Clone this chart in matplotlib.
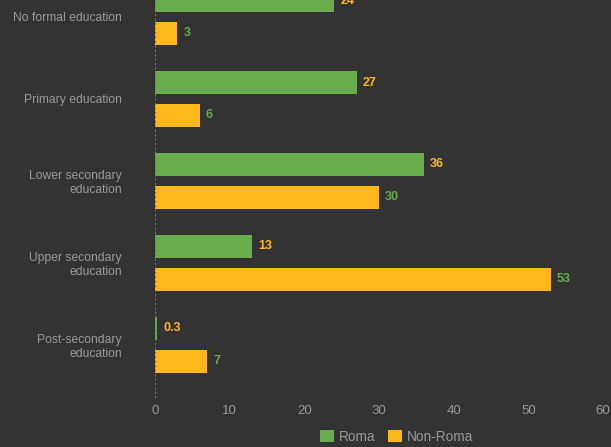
import matplotlib
matplotlib.use('Agg')
import matplotlib.pyplot as plt
import numpy as np

# education level shares (%)
categories = ['No formal education', 'Primary education', 'Lower secondary\neducation',
              'Upper secondary\neducation', 'Post-secondary\neducation']
roma = [24, 27, 36, 13, 0.3]
non_roma = [3, 6, 30, 53, 7]
roma_lbl = ['24', '27', '36', '13', '0.3']
non_roma_lbl = ['3', '6', '30', '53', '7']

bg = '#333333'
green = '#68ac4b'
yellow = '#ffb81c'
txt = '#9a9a9a'

plt.rcParams['font.family'] = ['Liberation Sans', 'DejaVu Sans']

fig = plt.figure(figsize=(6.11, 4.47), dpi=100, facecolor=bg)
ax = fig.add_axes([155/611, 49/447, 448/611, 422/447])
ax.set_facecolor(bg)

y = np.arange(len(categories))
h = 0.28
off = 0.2
ax.barh(y - off, roma, height=h, color=green, label='Roma')
ax.barh(y + off, non_roma, height=h, color=yellow, label='Non-Roma')

for i in range(len(categories)):
    ax.text(roma[i] + 0.8, y[i] - off, roma_lbl[i], color=yellow, fontsize=9,
            fontweight='bold', va='center', ha='left')
    ax.text(non_roma[i] + 0.8, y[i] + off, non_roma_lbl[i], color=green, fontsize=9,
            fontweight='bold', va='center', ha='left')

ax.set_xlim(0, 60)
ax.set_ylim(4.65, -0.5)
ax.set_xticks(range(0, 61, 10))
ax.set_yticks(y)
ax.set_yticklabels(categories, fontsize=8.7, color=txt)
ax.tick_params(axis='x', colors=txt, labelsize=9.5, length=0, pad=5)
ax.tick_params(axis='y', length=0, pad=24)
for s in ax.spines.values():
    s.set_visible(False)
ax.axvline(0, color='#777777', lw=0.8, ls=(0, (2, 2)))

leg = fig.legend(loc='center', bbox_to_anchor=(397/611, 10/447), ncol=2, frameon=False,
                 fontsize=9.8, handlelength=1.0, handleheight=1.0, handletextpad=0.4,
                 columnspacing=0.9)
for t in leg.get_texts():
    t.set_color(txt)

fig.savefig('out.png', dpi=100, facecolor=bg)
